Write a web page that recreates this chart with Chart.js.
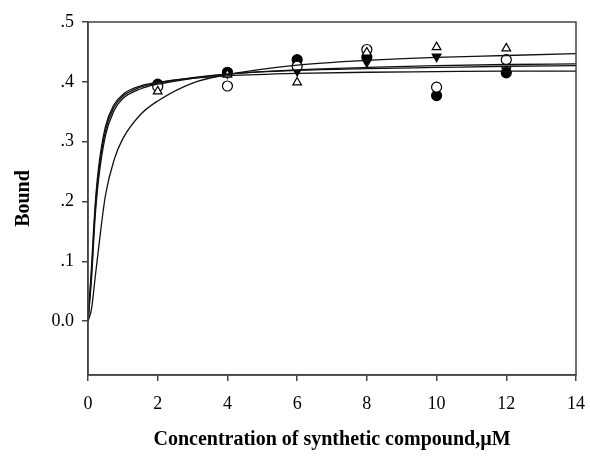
<!DOCTYPE html>
<html>
<head>
<meta charset="utf-8">
<script src="https://cdn.jsdelivr.net/npm/chart.js@4/dist/chart.umd.min.js"></script>
<style>
  html, body { margin: 0; padding: 0; background: #fff; }
  #wrap { width: 590px; height: 456px; }
</style>
</head>
<body>
<div id="wrap"><canvas id="chart" width="590" height="456"></canvas></div>
<script>
// --- Measured binding data ---
const concentrations = [2, 4, 6, 8, 10, 12];
const boundFilledCircle = [0.396, 0.416, 0.437, 0.441, 0.377, 0.415];
const boundOpenCircle = [0.392, 0.393, 0.426, 0.454, 0.391, 0.437];
const boundFilledTriangle = [0.391, 0.414, 0.418, 0.433, 0.442, 0.419];
const boundOpenTriangle = [0.384, 0.412, 0.399, 0.449, 0.458, 0.456];

// --- Fitted saturation curves ---
const fitX = [0, 0.1, 0.2, 0.3, 0.5, 0.75, 1, 1.5, 2, 3, 4, 6, 8, 10, 12, 14];
const fitFilledCircle = [0, 0.07, 0.17, 0.235, 0.31, 0.352, 0.372, 0.388, 0.396, 0.406, 0.413, 0.420, 0.424, 0.427, 0.429, 0.430];
const fitOpenCircle = [0, 0.08, 0.18, 0.245, 0.318, 0.358, 0.376, 0.391, 0.398, 0.407, 0.413, 0.419, 0.422, 0.424, 0.426, 0.427];
const fitFilledTriangle = [0, 0.09, 0.19, 0.255, 0.325, 0.362, 0.379, 0.393, 0.399, 0.406, 0.410, 0.414, 0.416, 0.417, 0.418, 0.418];
const fitOpenTriangle = [0, 0.02, 0.07, 0.12, 0.21, 0.27, 0.305, 0.345, 0.368, 0.398, 0.412, 0.428, 0.436, 0.441, 0.444, 0.447];

// --- Axis ticks ---
const xTicks = [0, 2, 4, 6, 8, 10, 12, 14];
const yTicks = [0, 0.1, 0.2, 0.3, 0.4, 0.5];
const yTickLabels = ['0.0', '.1', '.2', '.3', '.4', '.5'];

const FONT = '"Liberation Serif", "Times New Roman", serif';

function toPoints(xs, ys) {
    return xs.map((x, i) => ({ x: x, y: ys[i] }));
}

function curve(ys) {
    return {
        type: 'line',
        data: toPoints(fitX, ys),
        borderColor: '#111',
        borderWidth: 1.3,
        pointRadius: 0,
        cubicInterpolationMode: 'monotone',
        fill: false
    };
}

function markers(ys, style, filled, rotation) {
    return {
        type: 'scatter',
        data: toPoints(concentrations, ys),
        pointStyle: style,
        pointRotation: rotation || 0,
        pointRadius: 5,
        pointBorderWidth: 1.2,
        pointBackgroundColor: filled ? '#000' : '#fff',
        pointBorderColor: '#000'
    };
}

// draws the closed frame round the plot area
const frameBox = {
    id: 'frameBox',
    afterDatasetsDraw(chart) {
        const { ctx, chartArea: a } = chart;
        ctx.save();
        ctx.strokeStyle = '#444';
        ctx.lineWidth = 1.5;
        ctx.strokeRect(a.left, a.top, a.right - a.left, a.bottom - a.top);
        ctx.restore();
    }
};

new Chart(document.getElementById('chart'), {
    data: {
        datasets: [
            curve(fitFilledCircle),
            curve(fitOpenCircle),
            curve(fitFilledTriangle),
            curve(fitOpenTriangle),
            markers(boundOpenTriangle, 'triangle', false),
            markers(boundOpenCircle, 'circle', false),
            markers(boundFilledTriangle, 'triangle', true, 180),
            markers(boundFilledCircle, 'circle', true)
        ]
    },
    options: {
        responsive: false,
        animation: false,
        layout: { padding: { top: 22, right: 14, left: 0, bottom: 4 } },
        plugins: {
            legend: { display: false },
            tooltip: { enabled: false }
        },
        scales: {
            x: {
                type: 'linear',
                min: 0,
                max: 14,
                afterBuildTicks: (scale) => { scale.ticks = xTicks.map(v => ({ value: v })); },
                afterFit: (scale) => {
                    scale.height = 77;
                    // the "14" label may hang past the frame
                    scale.paddingRight = 0;
                    scale.paddingLeft = 0;
                },
                grid: { drawOnChartArea: false, drawTicks: true, tickLength: 6, color: '#444', lineWidth: 1.5 },
                border: { color: '#444', width: 1.5 },
                ticks: { color: '#000', font: { family: FONT, size: 18 }, padding: 12, maxRotation: 0 },
                title: {
                    display: true,
                    text: 'Concentration of synthetic compound,\u00b5M',
                    color: '#000',
                    font: { family: FONT, size: 20, weight: 'bold' },
                    padding: { top: 10, bottom: 0 }
                }
            },
            y: {
                type: 'linear',
                min: -0.09,
                max: 0.5,
                afterBuildTicks: (scale) => { scale.ticks = yTicks.map(v => ({ value: v })); },
                afterFit: (scale) => { scale.width = 88; },
                grid: { drawOnChartArea: false, drawTicks: true, tickLength: 6, color: '#444', lineWidth: 1.5 },
                border: { color: '#444', width: 1.5 },
                ticks: {
                    color: '#000',
                    font: { family: FONT, size: 18 },
                    padding: 8,
                    callback: (value) => {
                        const i = yTicks.findIndex(t => Math.abs(t - value) < 1e-9);
                        return i >= 0 ? yTickLabels[i] : '';
                    }
                },
                title: {
                    display: true,
                    text: 'Bound',
                    color: '#000',
                    font: { family: FONT, size: 20, weight: 'bold' },
                    padding: { top: 12, bottom: 4 }
                }
            }
        }
    },
    plugins: [frameBox]
});
</script>
</body>
</html>
